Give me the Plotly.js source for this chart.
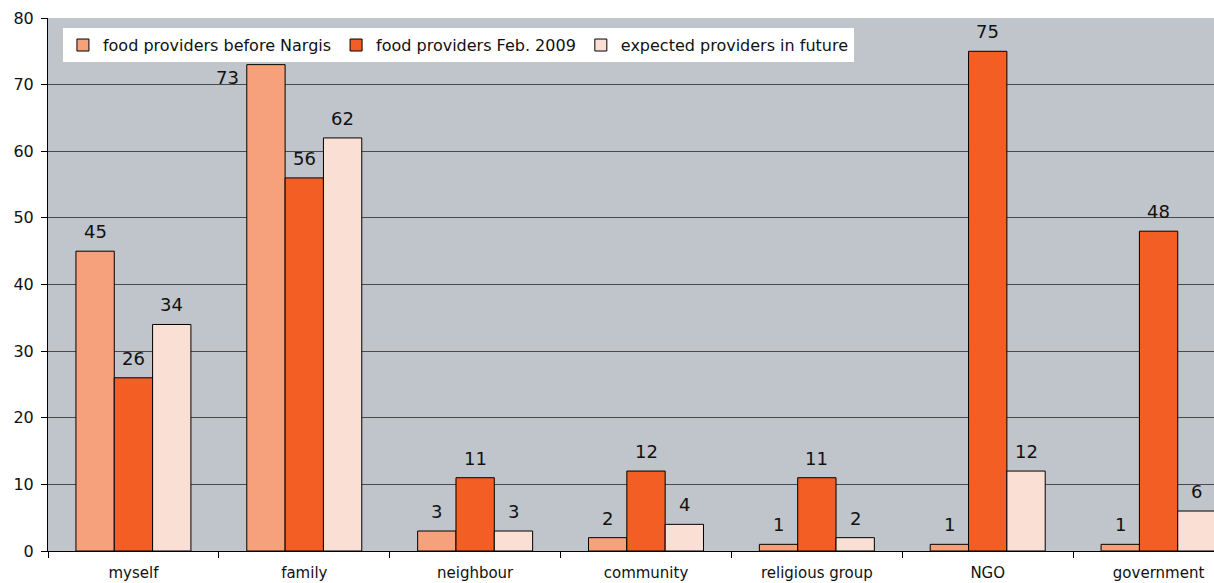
<!DOCTYPE html>
<html>
<head>
<meta charset="utf-8">
<script src="https://cdn.plot.ly/plotly-3.0.1.min.js"></script>
<style>
html, body { margin: 0; padding: 0; overflow: hidden; background: #ffffff; width: 1214px; height: 583px; }
#chart { width: 1256px; height: 583px; }
</style>
</head>
<body>
<div id="chart"></div>
<script>
const categories = ['myself', 'family', 'neighbour', 'community', 'religious group', 'NGO', 'government'];
const seriesNames = ['food providers before Nargis', 'food providers Feb. 2009', 'expected providers in future'];
const beforeNargis = [45, 73, 3, 2, 1, 1, 1];
const feb2009 = [26, 56, 11, 12, 11, 75, 48];
const future = [34, 62, 3, 4, 2, 12, 6];
const yTicks = [0, 10, 20, 30, 40, 50, 60, 70, 80];

const colors = ['#F7A17C', '#F25E23', '#FADFD4'];
const seriesValues = [beforeNargis, feb2009, future];

const W = 1256, H = 583;
const margin = {l: 48, r: 12, t: 18, b: 32};
const bargap = 0.327;
const fontFam = '"DejaVu Sans", Verdana, sans-serif';

const traces = seriesValues.map((vals, i) => ({
  type: 'bar',
  name: seriesNames[i],
  x: categories,
  y: vals,
  marker: {color: colors[i], line: {color: '#000000', width: 1}},
  hoverinfo: 'none'
}));

const plotW = W - margin.l - margin.r;
const plotH = H - margin.t - margin.b;
const barPx = plotW / categories.length * (1 - bargap) / seriesValues.length;
const legendBottomY = 54; // px from top where the legend box ends

const annotations = [];
seriesValues.forEach((vals, i) => {
  vals.forEach((v, j) => {
    const topPx = margin.t + plotH * (1 - v / 80);
    const clashesLegend = topPx - 7 - 20 < legendBottomY && j < 4;
    if (clashesLegend) {
      // label moved beside the bar (as in the original) so it stays clear of the legend
      annotations.push({
        x: categories[j], y: v, xref: 'x', yref: 'y',
        text: String(v), showarrow: false,
        yanchor: 'top', xanchor: 'right',
        xshift: (i - 1) * barPx - barPx / 2 - 6, yshift: 0,
        font: {family: fontFam, size: 18, color: '#111111'}
      });
    } else {
      annotations.push({
        x: categories[j], y: v, xref: 'x', yref: 'y',
        text: String(v), showarrow: false,
        yanchor: 'bottom', xanchor: 'center',
        xshift: (i - 1) * barPx, yshift: 7,
        font: {family: fontFam, size: 18, color: '#111111'}
      });
    }
  });
});

const layout = {
  width: W, height: H,
  margin: margin,
  paper_bgcolor: '#ffffff',
  plot_bgcolor: '#C0C4CB',
  barmode: 'group',
  bargap: bargap,
  bargroupgap: 0,
  font: {family: fontFam, color: '#111111'},
  showlegend: true,
  legend: {
    orientation: 'h',
    x: 0.0125, y: 0.981, xanchor: 'left', yanchor: 'top',
    bgcolor: '#ffffff',
    font: {family: fontFam, size: 16, color: '#111111'},
    itemwidth: 30,
    tracegroupgap: 0
  },
  xaxis: {
    type: 'category',
    showline: true, linecolor: '#000000', linewidth: 1,
    ticks: 'outside', ticklen: 6, tickcolor: '#000000',
    tickson: 'boundaries',
    ticklabelstandoff: 8,
    tickfont: {family: fontFam, size: 15, color: '#111111'},
    showgrid: false, zeroline: false,
    fixedrange: true
  },
  yaxis: {
    range: [0, 80],
    tickvals: yTicks,
    ticktext: yTicks.map(String),
    showline: true, linecolor: '#000000', linewidth: 1,
    ticks: 'outside', ticklen: 6, tickcolor: '#000000',
    ticklabelstandoff: 4,
    tickfont: {family: fontFam, size: 16, color: '#111111'},
    showgrid: true, gridcolor: '#4a4a4a', gridwidth: 1,
    zeroline: false,
    fixedrange: true
  },
  annotations: annotations
};

Plotly.newPlot('chart', traces, layout, {displayModeBar: false, staticPlot: true});
</script>
</body>
</html>
